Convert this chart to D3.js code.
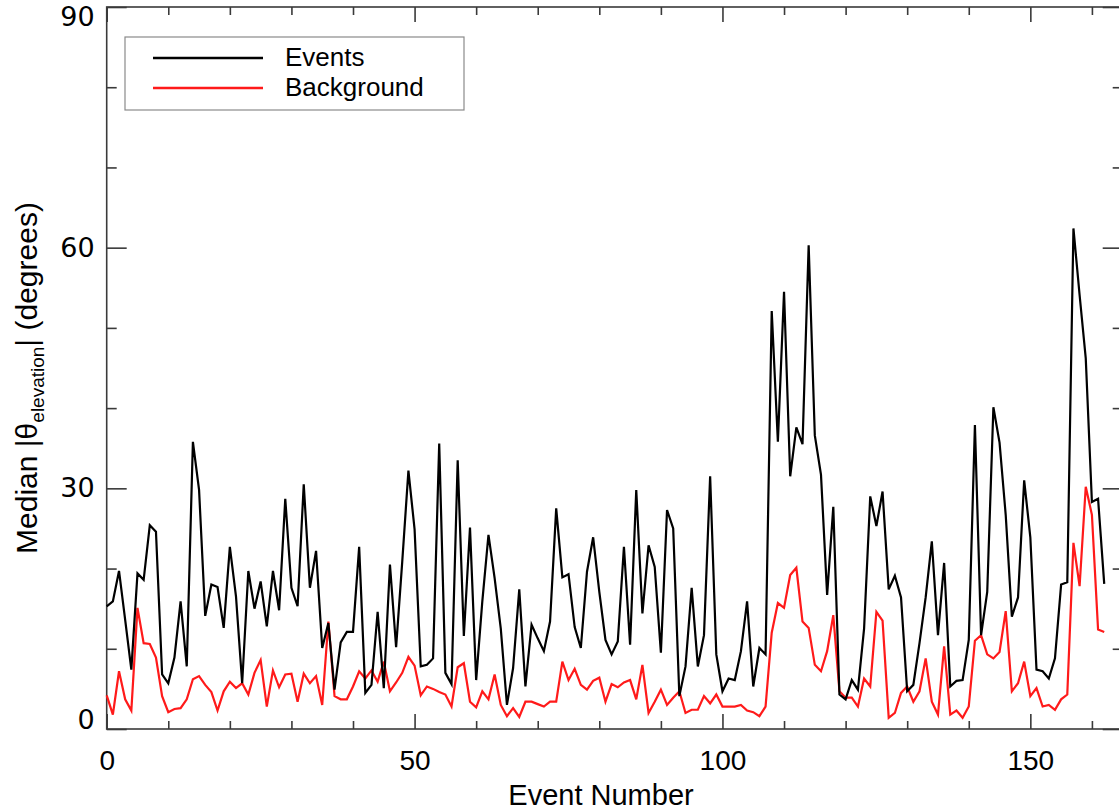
<!DOCTYPE html>
<html>
<head>
<meta charset="utf-8">
<script src="https://cdn.jsdelivr.net/npm/d3@7"></script>
<style>
  html, body { margin: 0; padding: 0; background: #fff; }
  svg { display: block; }
</style>
</head>
<body>
<svg id="chart" width="1119" height="811"></svg>
<script>
// Median |elevation angle| per event, events vs. background
const eventNumbers = d3.range(163);

const eventsMedian = [
  15.3, 15.9, 19.7, 13.6, 7.4, 19.4, 18.6, 25.4, 24.6, 6.8,
  5.7, 8.9, 15.9, 7.8, 35.8, 29.8, 14.1, 18.0, 17.7, 12.6,
  22.7, 16.5, 5.7, 19.7, 15.0, 18.4, 12.8, 19.7, 14.8, 28.7,
  17.6, 15.3, 30.5, 17.6, 22.2, 10.1, 13.2, 4.9, 10.8, 12.1,
  12.1, 22.7, 4.5, 5.5, 14.6, 5.1, 20.5, 10.2, 20.9, 32.2,
  24.9, 7.8, 8.0, 8.8, 35.6, 7.0, 5.6, 33.5, 11.6, 25.1,
  6.1, 15.9, 24.2, 18.8, 12.5, 3.0, 7.6, 17.4, 5.3, 13.0,
  11.3, 9.7, 13.4, 27.5, 18.9, 19.3, 12.7, 10.1, 19.6, 23.9,
  17.1, 11.1, 9.3, 10.9, 22.7, 10.5, 29.8, 14.4, 22.9, 20.2,
  9.5, 27.3, 25.0, 4.1, 7.8, 17.6, 7.8, 11.7, 31.5, 9.3,
  4.7, 6.3, 6.1, 9.7, 15.9, 5.3, 10.1, 9.3, 52.1, 35.8,
  54.5, 31.5, 37.6, 35.5, 60.3, 36.6, 31.7, 16.7, 27.7, 4.3,
  3.7, 6.1, 4.9, 12.5, 29.0, 25.3, 29.6, 17.4, 19.1, 16.4,
  4.7, 5.5, 10.7, 16.4, 23.4, 11.7, 20.7, 5.3, 6.0, 6.1,
  11.1, 37.9, 11.7, 17.1, 40.1, 35.7, 26.7, 14.0, 16.4, 31.0,
  23.9, 7.4, 7.2, 6.3, 8.8, 18.0, 18.3, 62.4, 54.1, 46.2,
  28.3, 28.7, 18.1
];

const backgroundMedian = [
  4.2, 1.8, 7.2, 3.7, 2.3, 15.1, 10.7, 10.6, 8.9, 4.1,
  2.1, 2.5, 2.6, 3.7, 6.2, 6.6, 5.5, 4.6, 2.3, 4.7,
  5.9, 5.1, 5.7, 4.3, 7.0, 8.6, 2.8, 7.3, 5.2, 6.8,
  6.9, 3.4, 6.9, 5.7, 6.6, 3.0, 13.4, 4.1, 3.7, 3.7,
  5.3, 7.2, 6.3, 7.3, 5.9, 8.4, 4.7, 5.8, 7.0, 9.0,
  7.9, 4.2, 5.3, 5.0, 4.6, 4.3, 2.8, 7.7, 8.2, 3.4,
  2.7, 4.7, 3.7, 6.8, 3.0, 1.6, 2.6, 1.5, 3.4, 3.4,
  3.1, 2.8, 3.4, 3.4, 8.4, 6.1, 7.5, 5.5, 4.9, 6.0,
  6.4, 3.4, 5.6, 5.2, 5.8, 6.1, 3.7, 8.0, 2.0, 3.4,
  4.9, 3.0, 3.9, 4.7, 2.0, 2.4, 2.4, 4.1, 3.2, 4.3,
  2.8, 2.8, 2.8, 3.0, 2.3, 2.1, 1.6, 2.8, 12.0, 15.7,
  15.1, 19.2, 20.1, 13.4, 12.6, 8.0, 7.2, 9.7, 14.2, 4.7,
  3.9, 3.9, 2.8, 6.3, 5.3, 14.6, 13.5, 1.4, 2.0, 4.5,
  5.3, 3.4, 4.7, 8.8, 3.4, 1.8, 10.3, 1.8, 2.3, 1.4,
  2.8, 11.0, 11.7, 9.3, 8.8, 9.6, 14.7, 4.7, 5.7, 8.4,
  4.1, 5.1, 2.8, 3.0, 2.4, 3.7, 4.3, 23.2, 17.8, 30.2,
  26.7, 12.4, 12.1
];

const xMajorTicks = [0, 50, 100, 150];
const xMinorTicks = [10, 20, 30, 40, 60, 70, 80, 90, 110, 120, 130, 140, 160];
const yMajorTicks = [0, 30, 60, 90];
const yMinorTicks = [10, 20, 40, 50, 70, 80];

const seriesNames = ["Events", "Background"];
const seriesColors = ["#000000", "#ff1a1a"];

// Plot frame (pixel edges)
const plotLeft = 106.7, plotRight = 1122.7, plotTop = 7, plotBottom = 729;

const svg = d3.select("#chart");

const x = d3.scaleLinear().domain([0, 165]).range([plotLeft, plotRight]);
const y = d3.scaleLinear().domain([0, 90]).range([plotBottom, plotTop]);

const frameColor = "#3a3a3a";
const tickFont = "'DejaVu Sans', sans-serif";
const textFont = "'Liberation Sans', Arial, sans-serif";

function styleAxis(g) {
  g.select(".domain").remove();
  g.selectAll(".tick line").attr("stroke", frameColor).attr("stroke-width", 1.6);
}

// Bottom axis: labelled major ticks, pointing inward
svg.append("g")
  .attr("transform", `translate(0,${plotBottom})`)
  .call(d3.axisBottom(x).tickValues(xMajorTicks).tickSize(-15).tickSizeOuter(0)
    .tickPadding(21).tickFormat(d3.format("d")))
  .call(styleAxis)
  .call(g => g.selectAll("text")
    .attr("font-family", textFont).attr("font-size", 28).attr("fill", "#000"));
svg.append("g")
  .attr("transform", `translate(0,${plotBottom})`)
  .call(d3.axisBottom(x).tickValues(xMinorTicks).tickSize(-8).tickSizeOuter(0).tickFormat(""))
  .call(styleAxis);

// Top axis (mirror)
svg.append("g")
  .attr("transform", `translate(0,${plotTop})`)
  .call(d3.axisTop(x).tickValues(xMajorTicks).tickSize(-15).tickSizeOuter(0).tickFormat(""))
  .call(styleAxis);
svg.append("g")
  .attr("transform", `translate(0,${plotTop})`)
  .call(d3.axisTop(x).tickValues(xMinorTicks).tickSize(-8).tickSizeOuter(0).tickFormat(""))
  .call(styleAxis);

// Left axis; the end labels are nudged inward so they stay on the canvas
svg.append("g")
  .attr("transform", `translate(${plotLeft},0)`)
  .call(d3.axisLeft(y).tickValues(yMajorTicks).tickSize(-20).tickSizeOuter(0)
    .tickPadding(12).tickFormat(d3.format("d")))
  .call(styleAxis)
  .call(g => g.selectAll("text")
    .attr("font-family", tickFont).attr("font-size", 27).attr("fill", "#000")
    .attr("y", d => d === 0 ? -9 : d === 90 ? 10 : 0));
svg.append("g")
  .attr("transform", `translate(${plotLeft},0)`)
  .call(d3.axisLeft(y).tickValues(yMinorTicks).tickSize(-10).tickSizeOuter(0).tickFormat(""))
  .call(styleAxis);

// Right axis (mirror)
svg.append("g")
  .attr("transform", `translate(${plotRight},0)`)
  .call(d3.axisRight(y).tickValues(yMajorTicks).tickSize(-20).tickSizeOuter(0).tickFormat(""))
  .call(styleAxis);
svg.append("g")
  .attr("transform", `translate(${plotRight},0)`)
  .call(d3.axisRight(y).tickValues(yMinorTicks).tickSize(-10).tickSizeOuter(0).tickFormat(""))
  .call(styleAxis);

// Frame
svg.append("rect")
  .attr("x", plotLeft).attr("y", plotTop)
  .attr("width", plotRight - plotLeft).attr("height", plotBottom - plotTop)
  .attr("fill", "none").attr("stroke", frameColor).attr("stroke-width", 1.6);

// Series lines (background first, events on top)
const line = d3.line()
  .x((d, i) => x(eventNumbers[i]))
  .y(d => y(d));

[[backgroundMedian, seriesColors[1]], [eventsMedian, seriesColors[0]]].forEach(([values, color]) => {
  svg.append("path")
    .datum(values)
    .attr("fill", "none")
    .attr("stroke", color)
    .attr("stroke-width", 2.2)
    .attr("stroke-linejoin", "miter")
    .attr("d", line);
});

// Axis titles
svg.append("text")
  .attr("x", 601).attr("y", 805)
  .attr("text-anchor", "middle")
  .attr("font-family", textFont).attr("font-size", 29)
  .text("Event Number");

const yTitle = svg.append("text")
  .attr("transform", "translate(37,378) rotate(-90)")
  .attr("text-anchor", "middle")
  .attr("font-family", textFont).attr("font-size", 30);
yTitle.append("tspan").text("Median |θ");
yTitle.append("tspan").attr("font-size", 19).attr("dy", 7).text("elevation");
yTitle.append("tspan").attr("dy", -7).text("| (degrees)");

// Legend
const legend = svg.append("g");
legend.append("rect")
  .attr("x", 125).attr("y", 37).attr("width", 339).attr("height", 73)
  .attr("fill", "#fff").attr("stroke", "#8a8a8a").attr("stroke-width", 1.2);
seriesNames.forEach((name, i) => {
  const yy = 58 + i * 30;
  legend.append("line")
    .attr("x1", 153).attr("x2", 263).attr("y1", yy).attr("y2", yy)
    .attr("stroke", seriesColors[i]).attr("stroke-width", 2.4);
  legend.append("text")
    .attr("x", 285).attr("y", yy + 8)
    .attr("font-family", textFont).attr("font-size", 26)
    .text(name);
});
</script>
</body>
</html>
